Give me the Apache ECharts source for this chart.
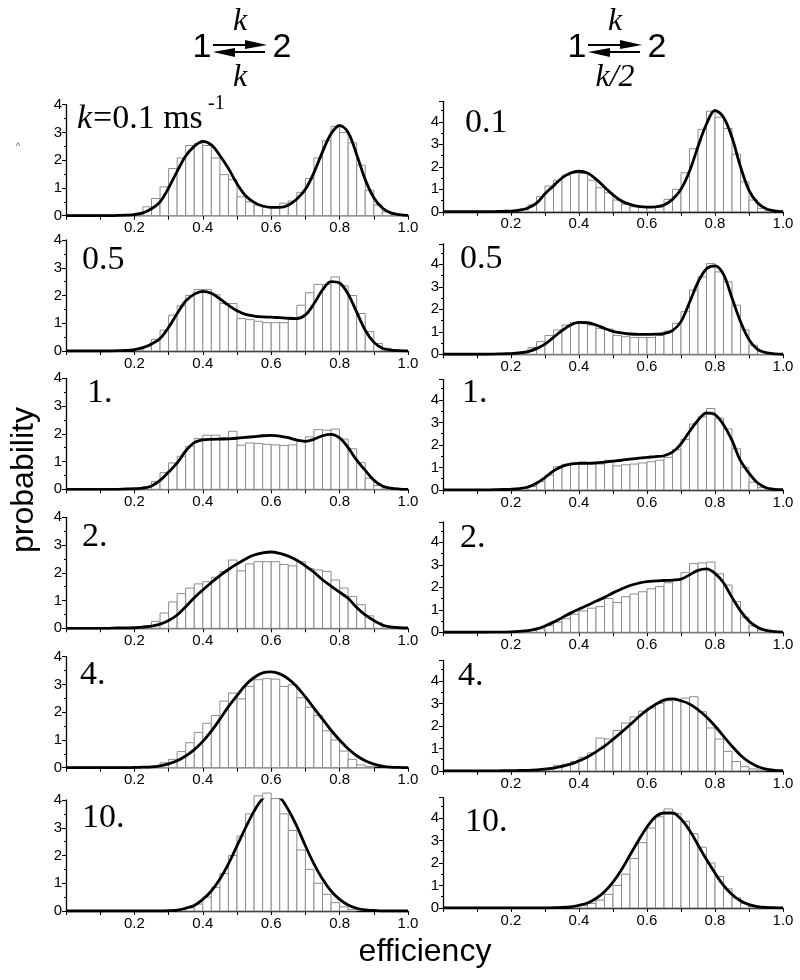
<!DOCTYPE html>
<html><head><meta charset="utf-8">
<script src="https://cdn.jsdelivr.net/npm/echarts@6/dist/echarts.min.js"></script>
<style>html,body{margin:0;padding:0;background:#fff}#c{width:800px;height:980px}</style>
</head><body><div id="c"></div>
<script>
// ---------- data ----------
const BIN_WIDTH = 0.025;       // histogram bin width (efficiency units)
const CURVE_STEP = 0.025;      // spacing of the read-off curve samples
const xTickValues = [0.2, 0.4, 0.6, 0.8, 1.0];
const xTickLabels = ['0.2', '0.4', '0.6', '0.8', '1.0'];
const yTickLabels = ['0', '1', '2', '3', '4'];
const panelLabels = ['0.1', '0.1', '0.5', '0.5', '1.', '1.', '2.', '2.', '4.', '4.', '10.', '10.'];

// histogram heights, 40 bins from 0 to 1
const barsL1 = [0,0,0,0,0,0,0,0,0.08,0.32, 0.62,1.04,1.7,2.08,2.53,2.6,2.53,2.08,1.48,1.3, 0.68,0.5,0.38,0.32,0.3,0.45,0.53,0.84,1.34,2.08, 2.7,3.22,3.0,2.63,1.82,0.92,0.38,0.14,0.03,0];
const barsR1 = [0,0,0,0,0,0,0,0,0.03,0.12, 0.3,0.67,1.14,1.4,1.63,1.73,1.7,1.4,1.07,0.84, 0.52,0.33,0.22,0.2,0.2,0.2,0.55,1.0,1.73,2.8, 3.66,4.47,4.2,3.7,2.56,1.33,0.52,0.15,0.04,0];
const barsL2 = [0,0,0,0,0,0,0,0,0.05,0.15, 0.42,0.75,1.29,1.63,2.0,2.22,2.22,2.03,1.71,1.71, 1.17,1.13,1.07,1.02,1.02,1.02,1.15,1.65,2.1,2.4, 2.4,2.67,2.35,2.0,1.35,0.7,0.27,0.1,0.03,0];
const barsR2 = [0,0,0,0,0,0,0,0,0.04,0.12, 0.3,0.56,0.83,1.08,1.3,1.42,1.45,1.3,1.15,1.12, 0.83,0.78,0.74,0.74,0.74,0.83,1.03,1.37,1.89,2.85, 3.44,4.03,3.66,3.22,2.18,1.08,0.4,0.12,0.03,0];
const barsL3 = [0,0,0,0,0,0,0,0,0.03,0.1, 0.28,0.6,0.95,1.19,1.55,1.83,1.95,1.95,1.85,2.09, 1.59,1.67,1.65,1.62,1.6,1.58,1.6,1.72,1.89,2.15, 2.13,2.17,1.81,1.46,0.96,0.4,0.14,0.05,0,0];
const barsR3 = [0,0,0,0,0,0,0,0,0.02,0.05, 0.15,0.37,0.66,1.03,1.14,1.2,1.25,1.2,1.15,1.32, 1.07,1.12,1.15,1.2,1.25,1.32,1.45,1.79,2.24,2.93, 3.25,3.62,3.19,2.71,1.83,1.0,0.35,0.1,0.03,0];
const barsL4 = [0,0,0,0,0,0,0,0,0.03,0.1, 0.25,0.55,0.95,1.25,1.45,1.6,1.68,1.84,2.05,2.46, 2.07,2.32,2.4,2.4,2.4,2.3,2.25,2.4,2.15,2.1, 2.05,1.74,1.45,1.15,0.85,0.45,0.2,0.06,0.02,0];
const barsR4 = [0,0,0,0,0,0,0,0,0.02,0.04, 0.08,0.15,0.3,0.45,0.6,0.8,0.95,1.07,1.14,1.5, 1.32,1.58,1.7,1.8,1.93,2.03,2.2,2.3,2.65,3.05, 3.08,3.12,2.6,2.1,1.36,0.67,0.28,0.1,0.03,0];
const barsL5 = [0,0,0,0,0,0,0,0,0,0.02, 0.05,0.18,0.3,0.58,0.9,1.27,1.6,1.88,2.4,2.69, 2.48,2.93,3.17,3.21,3.19,2.93,2.99,2.52,2.18,1.88, 1.33,1.0,0.6,0.3,0.1,0.04,0,0,0,0];
const barsR5 = [0,0,0,0,0,0,0,0,0,0.02, 0.03,0.05,0.12,0.25,0.3,0.42,0.61,0.8,1.46,1.42, 1.8,2.13,2.4,2.66,2.8,3.0,3.12,3.15,3.24,3.3, 2.63,1.91,1.42,0.87,0.42,0.19,0.09,0.03,0,0];
const barsL6 = [0,0,0,0,0,0,0,0,0,0, 0,0,0,0.05,0.12,0.25,0.5,0.85,1.35,2.0, 2.7,3.5,4.15,4.25,4.05,3.5,2.9,2.2,1.5,1.0, 0.6,0.3,0.15,0.06,0,0,0,0,0,0];
const barsR6 = [0,0,0,0,0,0,0,0,0,0, 0,0,0,0,0,0.05,0.1,0.2,0.35,0.6, 1.0,1.5,2.2,2.9,3.55,4.05,4.4,4.2,3.85,3.3, 2.7,2.0,1.4,0.85,0.45,0.2,0.08,0.03,0,0];

// fitted curve samples, 41 points from 0 to 1
const curveL1 = [0,0,0,0,0,0,0.01,0.02,0.04,0.1, 0.25,0.5,1.0,1.6,2.15,2.5,2.68,2.55,2.17,1.7, 1.15,0.72,0.48,0.35,0.3,0.3,0.38,0.6,0.95,1.55, 2.3,2.95,3.25,3.0,2.2,1.3,0.65,0.28,0.1,0.04, 0.01];
const curveR1 = [0,0,0,0,0,0,0.01,0.02,0.03,0.07, 0.17,0.38,0.8,1.15,1.5,1.72,1.8,1.72,1.45,1.1, 0.75,0.48,0.33,0.24,0.21,0.22,0.3,0.55,1.0,1.8, 2.9,3.9,4.5,4.2,3.3,2.0,0.95,0.4,0.13,0.04, 0.01];
const curveL2 = [0,0,0,0,0,0,0.01,0.02,0.05,0.12, 0.25,0.45,0.85,1.35,1.8,2.05,2.15,2.08,1.88,1.65, 1.45,1.32,1.26,1.23,1.22,1.2,1.18,1.17,1.3,1.7, 2.2,2.5,2.45,2.05,1.4,0.75,0.32,0.1,0.03,0.01, 0];
const curveR2 = [0,0,0,0,0,0,0.01,0.02,0.03,0.06, 0.12,0.25,0.45,0.75,1.05,1.3,1.42,1.4,1.3,1.15, 1.02,0.95,0.9,0.88,0.88,0.89,0.92,1.05,1.45,2.3, 3.2,3.8,3.93,3.55,2.5,1.45,0.65,0.22,0.07,0.02, 0];
const curveL3 = [0,0,0,0,0,0,0,0.01,0.02,0.04, 0.12,0.32,0.62,0.95,1.38,1.68,1.78,1.8,1.81,1.82, 1.84,1.87,1.9,1.93,1.94,1.92,1.86,1.77,1.73,1.8, 1.93,1.98,1.85,1.5,1.05,0.68,0.33,0.12,0.04,0.01, 0];
const curveR3 = [0,0,0,0,0,0,0.01,0.02,0.03,0.06, 0.13,0.3,0.55,0.85,1.05,1.15,1.18,1.18,1.2,1.24, 1.28,1.32,1.37,1.41,1.45,1.48,1.52,1.68,2.05,2.6, 3.1,3.42,3.35,2.9,2.2,1.3,0.75,0.32,0.1,0.03, 0.01];
const curveL4 = [0,0,0,0,0,0,0.01,0.01,0.02,0.04, 0.08,0.15,0.28,0.48,0.78,1.1,1.38,1.65,1.9,2.12, 2.32,2.5,2.64,2.72,2.75,2.7,2.6,2.45,2.25,2.02, 1.75,1.52,1.3,1.08,0.75,0.48,0.28,0.12,0.05,0.02, 0.01];
const curveR4 = [0,0,0,0,0,0,0.01,0.01,0.02,0.04, 0.07,0.15,0.28,0.45,0.65,0.85,1.03,1.2,1.38,1.55, 1.75,1.92,2.08,2.18,2.25,2.28,2.3,2.32,2.36,2.55, 2.75,2.82,2.62,2.2,1.55,0.95,0.5,0.22,0.08,0.03, 0.01];
const curveL5 = [0,0,0,0,0,0,0,0,0.01,0.02, 0.03,0.07,0.14,0.25,0.42,0.65,0.95,1.32,1.75,2.2, 2.6,2.98,3.25,3.42,3.45,3.38,3.2,2.92,2.55,2.15, 1.75,1.35,1.0,0.68,0.43,0.25,0.13,0.06,0.02,0.01, 0];
const curveR5 = [0,0,0,0,0,0,0,0.01,0.01,0.02, 0.03,0.05,0.08,0.13,0.2,0.3,0.45,0.62,0.85,1.1, 1.4,1.72,2.05,2.4,2.7,2.95,3.15,3.2,3.12,2.98, 2.72,2.4,2.0,1.55,1.1,0.7,0.4,0.2,0.08,0.03, 0.01];
const curveL6 = [0,0,0,0,0,0,0,0,0,0, 0,0,0.01,0.03,0.1,0.2,0.42,0.72,1.15,1.7, 2.35,3.0,3.6,4.05,4.25,4.1,3.65,3.05,2.35,1.7, 1.15,0.72,0.42,0.22,0.1,0.04,0.02,0,0,0, 0];
const curveR6 = [0,0,0,0,0,0,0,0,0,0, 0,0,0,0.01,0.02,0.05,0.12,0.22,0.42,0.72, 1.15,1.7,2.35,3.0,3.6,4.05,4.22,4.22,3.95,3.45, 2.8,2.15,1.55,1.0,0.6,0.32,0.15,0.06,0.02,0.01, 0];

const barSets = [barsL1, barsR1, barsL2, barsR2, barsL3, barsR3, barsL4, barsR4, barsL5, barsR5, barsL6, barsR6];
const curveSets = [curveL1, curveR1, curveL2, curveR2, curveL3, curveR3, curveL4, curveR4, curveL5, curveR5, curveL6, curveR6];

// ---------- layout (pixels) ----------
const leftTops = [104.7, 240, 378.3, 517.3, 656.7, 800];
const rightTops = [101.5, 244, 379.7, 522, 660.7, 797.7];
const gridBoxes = [];
for (let r = 0; r < 6; r++) {
  gridBoxes.push({left: 66, top: leftTops[r], width: 342, height: 111, ymax: 4});
  gridBoxes.push({left: 443, top: rightTops[r], width: 340, height: 110.25, ymax: 4.9});
}

const AXIS_FONT = '"Liberation Sans", Arial, sans-serif';
const SERIF = '"Liberation Serif", "Times New Roman", serif';

const grids = [], xAxes = [], yAxes = [], series = [];
gridBoxes.forEach((b, g) => {
  grids.push({left: b.left, top: b.top, width: b.width, height: b.height, outerBoundsMode: 'none', containLabel: false});
  xAxes.push({
    type: 'value', gridIndex: g, min: 0, max: 1, interval: 0.1,
    axisLine: {show: true, lineStyle: {color: '#000', width: 1.3}},
    axisTick: {show: true, length: 4, inside: false, lineStyle: {color: '#000', width: 1}},
    splitLine: {show: false},
    axisLabel: {
      color: '#000', fontFamily: AXIS_FONT, fontSize: 15, margin: 5,
      formatter: v => { const i = xTickValues.findIndex(t => Math.abs(t - v) < 1e-6); return i >= 0 ? xTickLabels[i] : ''; }
    }
  });
  yAxes.push({
    type: 'value', gridIndex: g, min: 0, max: b.ymax, interval: 1,
    axisLine: {show: true, lineStyle: {color: '#000', width: 1.3}},
    axisTick: {show: true, length: 4, lineStyle: {color: '#000', width: 1}},
    minorTick: {show: true, splitNumber: 2, length: 2, lineStyle: {color: '#000'}},
    splitLine: {show: false},
    axisLabel: {
      color: '#000', fontFamily: AXIS_FONT, fontSize: 15, margin: 4,
      formatter: v => { const i = Math.round(v); return (Math.abs(v - i) < 1e-6 && yTickLabels[i] !== undefined) ? yTickLabels[i] : ''; }
    }
  });
  const barData = [];
  barSets[g].forEach((h, i) => { if (h > 0) barData.push([i * BIN_WIDTH, (i + 1) * BIN_WIDTH, h]); });
  series.push({
    type: 'custom', xAxisIndex: g, yAxisIndex: g, silent: true, z: 2,
    data: barData,
    renderItem: (params, api) => {
      const p0 = api.coord([api.value(0), api.value(2)]);
      const p1 = api.coord([api.value(1), 0]);
      return {type: 'rect', shape: {x: p0[0], y: p0[1], width: p1[0] - p0[0], height: p1[1] - p0[1]},
        style: {fill: '#fff', stroke: '#8c8c8c', lineWidth: 1}};
    }
  });
  series.push({
    type: 'line', xAxisIndex: g, yAxisIndex: g, silent: true, z: 3,
    data: curveSets[g].map((y, i) => [i * CURVE_STEP, y]),
    smooth: 0.35, showSymbol: false, symbol: 'none',
    lineStyle: {color: '#000', width: 2.8}
  });
});

// ---------- text & decorations ----------
const labelPos = [[77,119],[465,123],[82,260],[460,259],[87,393],[462,393],[82,537],[460,538],[80,675],[458,676],[82,818],[465,822]];
const graphics = [];
labelPos.forEach((p, g) => {
  if (g === 0) return;
  graphics.push({type: 'text', x: p[0], y: p[1], style: {text: panelLabels[g], font: '34px ' + SERIF, fill: '#000', verticalAlign: 'middle', align: 'left'}});
});
// first panel label: k=0.1 ms^-1
graphics.push({type: 'text', x: 77, y: 119, style: {text: 'k', font: 'italic 34px ' + SERIF, fill: '#000', verticalAlign: 'middle'}});
graphics.push({type: 'text', x: 93, y: 119, style: {text: '=' + panelLabels[0] + ' ms', font: '34px ' + SERIF, fill: '#000', verticalAlign: 'middle'}});
graphics.push({type: 'text', x: 208, y: 104, style: {text: '-1', font: '20px ' + SERIF, fill: '#000', verticalAlign: 'middle'}});
// stray mark
graphics.push({type: 'text', x: 18, y: 147, style: {text: '^', font: '9px ' + AXIS_FONT, fill: '#555', align: 'center', verticalAlign: 'middle'}});
// axis names
graphics.push({type: 'text', x: 24, y: 480, rotation: Math.PI / 2, style: {text: 'probability', font: '32px ' + AXIS_FONT, fill: '#000', align: 'center', verticalAlign: 'middle'}});
graphics.push({type: 'text', x: 425, y: 952, style: {text: 'efficiency', font: '32px ' + AXIS_FONT, fill: '#000', align: 'center', verticalAlign: 'middle'}});

// reaction schemes
function scheme(cx, lowerText) {
  const els = [];
  els.push({type: 'text', x: cx - 35, y: 48, style: {text: '1', font: '34px ' + AXIS_FONT, fill: '#000', align: 'center', verticalAlign: 'middle'}});
  els.push({type: 'text', x: cx + 45, y: 48, style: {text: '2', font: '34px ' + AXIS_FONT, fill: '#000', align: 'center', verticalAlign: 'middle'}});
  els.push({type: 'line', shape: {x1: cx - 24, y1: 45, x2: cx + 14, y2: 45}, style: {stroke: '#000', lineWidth: 2}});
  els.push({type: 'polygon', shape: {points: [[cx + 8, 40], [cx + 30, 45], [cx + 8, 49]]}, style: {fill: '#000'}});
  els.push({type: 'line', shape: {x1: cx - 8, y1: 52, x2: cx + 28, y2: 52}, style: {stroke: '#000', lineWidth: 2}});
  els.push({type: 'polygon', shape: {points: [[cx - 24, 52], [cx - 2, 48], [cx - 2, 57]]}, style: {fill: '#000'}});
  els.push({type: 'text', x: cx + 3, y: 22, style: {text: 'k', font: 'italic 32px ' + SERIF, fill: '#000', align: 'center', verticalAlign: 'middle'}});
  els.push({type: 'text', x: cx + 3, y: 78, style: {text: lowerText, font: 'italic 32px ' + SERIF, fill: '#000', align: 'center', verticalAlign: 'middle'}});
  return els;
}
graphics.push(...scheme(237, 'k'), ...scheme(612, 'k/2'));

const chart = echarts.init(document.getElementById('c'), null, {renderer: 'canvas'});
chart.setOption({
  backgroundColor: '#fff',
  animation: false,
  grid: grids, xAxis: xAxes, yAxis: yAxes, series: series,
  graphic: graphics
});
</script></body></html>
